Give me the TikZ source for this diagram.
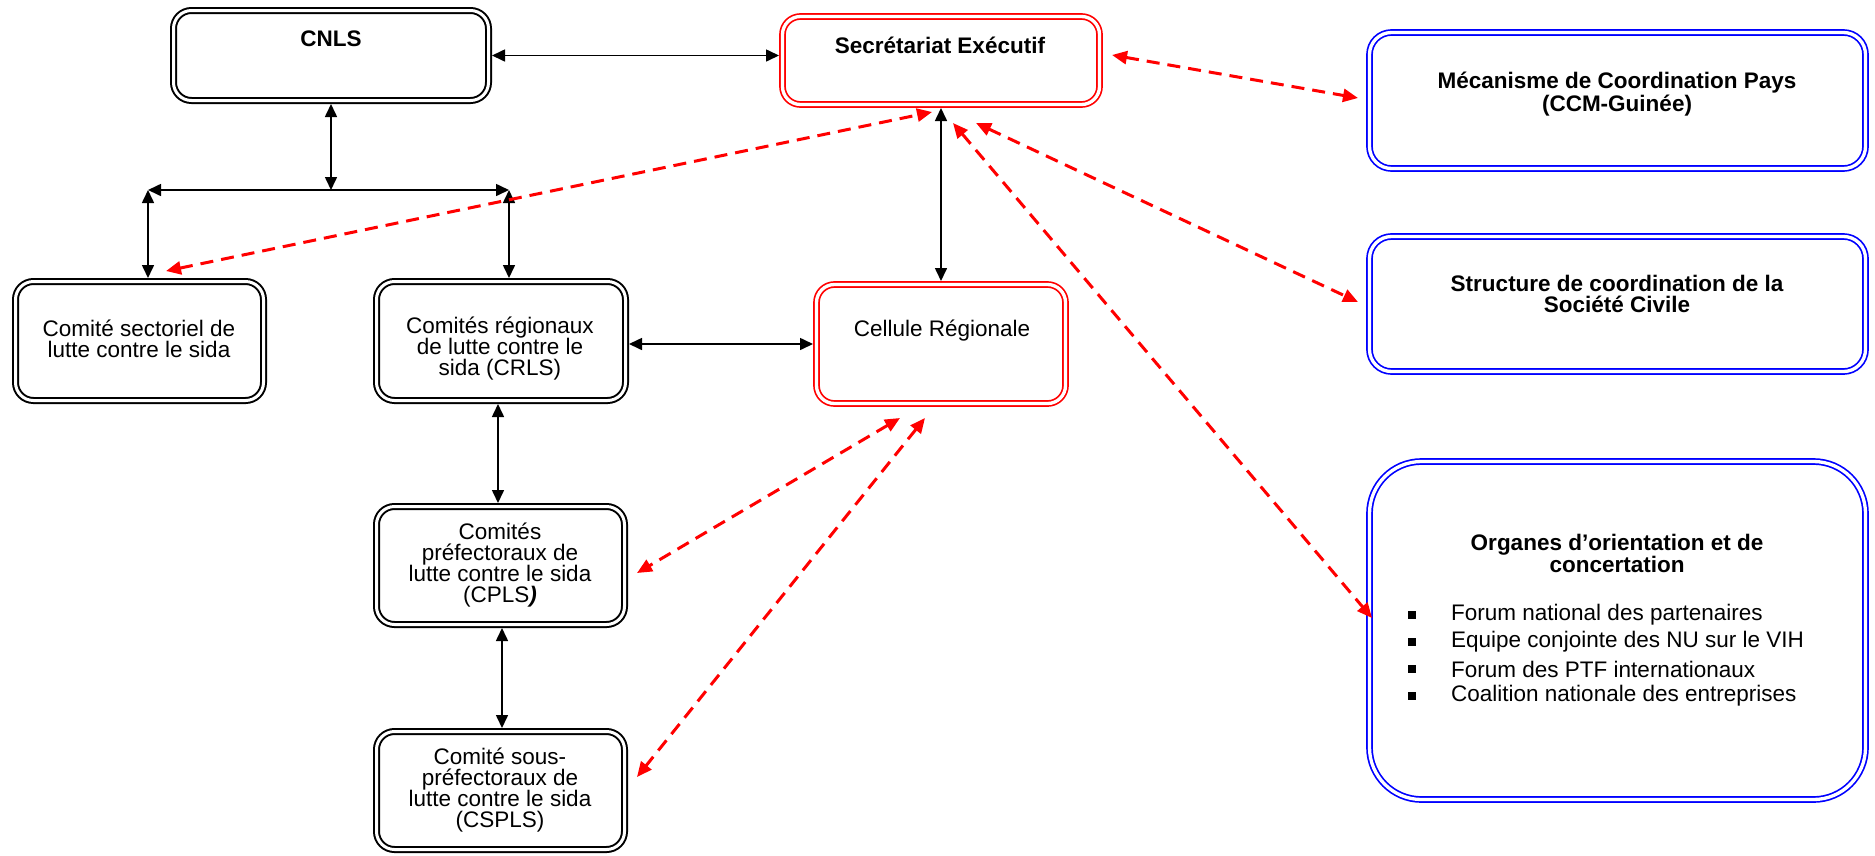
\documentclass[tikz,border=0pt]{standalone}
\usepackage{fontspec}
\setmainfont{Liberation Sans}
\usetikzlibrary{arrows.meta}
\begin{document}
\begin{tikzpicture}[x=1pt,y=-1pt,
  box/.style={rectangle, rounded corners=18pt, draw=black, line width=2pt,
    double=white, double distance=3pt, outer sep=3.5pt, inner sep=0pt},
  redbox/.style={box, draw=red, line width=1.7pt, double distance=3.3pt},
  bluebox/.style={box, draw=blue, line width=1.7pt, double distance=3.3pt, rounded corners=22pt},
  lbl/.style={align=center, font=\fontsize{22.5}{21}\selectfont, inner sep=0pt},
  ttl/.style={align=center, font=\fontsize{22.5}{21}\selectfont\bfseries, inner sep=0pt},
  item/.style={anchor=west, font=\fontsize{22.5}{21}\selectfont, inner sep=0pt},
  sq/.style={rectangle, fill=black, minimum size=7.5pt, inner sep=0pt},
  link/.style={line width=1.6pt,
    {Triangle[length=13pt,width=12pt]}-{Triangle[length=13pt,width=12pt]}},
  dlink/.style={red, line width=3pt, dash pattern=on 13pt off 8pt,
    {Triangle[length=15pt,width=13pt]}-{Triangle[length=15pt,width=13pt]}},
]
\useasboundingbox (0,0) rectangle (1875,855);

% boxes
\node[box, minimum width=315pt, minimum height=90pt] (cnls) at (331,55.5) {};
\node[redbox, minimum width=317pt, minimum height=88pt] (secr) at (941,60.5) {};
\node[bluebox, minimum width=496pt, minimum height=136pt] (ccm) at (1617.5,100.5) {};
\node[bluebox, minimum width=496pt, minimum height=135pt] (scsc) at (1617.5,304) {};
\node[bluebox, rounded corners=52pt, minimum width=496pt, minimum height=338pt] (org) at (1617.5,630.5) {};
\node[box, minimum width=248pt, minimum height=119pt] (sect) at (139.5,341) {};
\node[box, minimum width=249pt, minimum height=119pt] (crls) at (501,341) {};
\node[redbox, minimum width=249pt, minimum height=119pt] (cell) at (941,344) {};
\node[box, minimum width=248pt, minimum height=118pt] (cpls) at (500.5,565.5) {};
\node[box, minimum width=248pt, minimum height=118pt] (cspls) at (500.5,790.5) {};

% texts
\node[ttl] (cnls-t) at (331,39) {CNLS};
\node[ttl] (secr-t) at (940,45) {Secrétariat Exécutif};
\node[ttl] (ccm-t) at (1617,94) {Mécanisme de Coordination Pays\\(CCM-Guinée)};
\node[ttl] (scsc-t) at (1617,294) {Structure de coordination de la\\Société Civile};
\node[lbl] (sect-t) at (139,339) {Comité sectoriel de\\lutte contre le sida};
\node[lbl] (crls-t) at (500,349) {Comités régionaux\\de lutte contre le\\sida (CRLS)};
\node[lbl] (cell-t) at (942,331) {Cellule Régionale};
\node[lbl] (cpls-t) at (500,565) {Comités\\préfectoraux de\\lutte contre le sida\\(CPLS\textit{\textbf{)}}};
\node[lbl] (cspls-t) at (500,790) {Comité sous-\\préfectoraux de\\lutte contre le sida\\(CSPLS)};
\node[ttl] (org-t) at (1617,553) {Organes d’orientation et de\\concertation};
\foreach \y/\t [count=\i] in {615/Forum national des partenaires,
    642/Equipe conjointe des NU sur le VIH,
    669/Forum des PTF internationaux,
    696/Coalition nationale des entreprises}{
  \node[sq] (b\i) at (1412,\y) {};
  \node[item] (it\i) at (1451,\y) {\t};
}

% hierarchy links
\draw[link] (cnls.east) -- (cnls.east -| secr.west);
\coordinate (hub) at (cnls.south |- 0,190);
\coordinate (barL) at (148,190);
\coordinate (barR) at (509,190);
\draw[link] (cnls.south) -- (hub);
\draw[link] (barL) -- (barR);
\draw[link] (barL) -- (barL |- sect.north);
\draw[link] (barR) -- (barR |- crls.north);
\draw[link] (secr.south) -- (secr.south |- cell.north);
\draw[link] (cell.west) -- (cell.west -| crls.east);
\draw[link] (crls.south -| 498,0) -- (cpls.north -| 498,0);
\draw[link] (cpls.south -| 502,0) -- (cspls.north -| 502,0);

% coordination links
\coordinate (s1) at (166,271);   \coordinate (e1) at (932,112);
\coordinate (s2) at (1112,55);   \coordinate (e2) at (1358,98);
\coordinate (s3) at (976,123);   \coordinate (e3) at (1358,302);
\coordinate (s4) at (953,123);   \coordinate (e4) at (1372,618);
\coordinate (s5) at (900,418);   \coordinate (e5) at (637,573);
\coordinate (s6) at (925,418);   \coordinate (e6) at (637,777);
\foreach \i in {1,...,6}{ \draw[dlink] (s\i) -- (e\i); }
\end{tikzpicture}
\end{document}
